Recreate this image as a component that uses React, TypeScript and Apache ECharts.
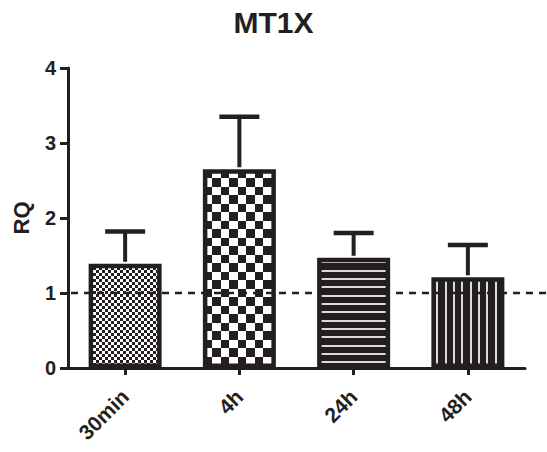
import React, { useEffect, useRef } from 'react';
import * as echarts from 'echarts';

const categories = ['30min', '4h', '24h', '48h'];
const meanValues = [1.39, 2.65, 1.47, 1.21];
const upperValues = [1.82, 3.35, 1.8, 1.64];
const referenceValue = 1;
const yMin = 0;
const yMax = 4;
const yInterval = 1;

const INK = '#231f20';
const FONT = '"Liberation Sans", Arial, Helvetica, sans-serif';

function makeCanvas(w: number, h: number, draw: (ctx: CanvasRenderingContext2D) => void) {
  const c = document.createElement('canvas');
  c.width = w;
  c.height = h;
  const ctx = c.getContext('2d')!;
  draw(ctx);
  return c;
}

function buildPatterns() {
  const fine = makeCanvas(6, 6, (ctx) => {
    ctx.fillStyle = '#ffffff';
    ctx.fillRect(0, 0, 6, 6);
    ctx.fillStyle = INK;
    ctx.fillRect(0, 0, 3, 3);
    ctx.fillRect(3, 3, 3, 3);
  });
  const coarse = makeCanvas(34, 34, (ctx) => {
    const b = [0, 8, 17, 25, 34];
    ctx.fillStyle = '#ffffff';
    ctx.fillRect(0, 0, 34, 34);
    ctx.fillStyle = INK;
    for (let i = 0; i < 4; i++) {
      for (let j = 0; j < 4; j++) {
        if ((i + j) % 2 === 0) ctx.fillRect(b[i], b[j], b[i + 1] - b[i], b[j + 1] - b[j]);
      }
    }
  });
  const hStripes = makeCanvas(8, 25, (ctx) => {
    ctx.fillStyle = INK;
    ctx.fillRect(0, 0, 8, 25);
    ctx.fillStyle = '#dcdcdc';
    [3, 11, 20].forEach((y) => ctx.fillRect(0, y, 8, 2));
  });
  const vStripes = makeCanvas(25, 8, (ctx) => {
    ctx.fillStyle = INK;
    ctx.fillRect(0, 0, 25, 8);
    ctx.fillStyle = '#dcdcdc';
    [3, 11, 20].forEach((x) => ctx.fillRect(x, 0, 2, 8));
  });
  return [fine, coarse, hStripes, vStripes];
}

export default function App() {
  const ref = useRef<HTMLDivElement>(null);

  useEffect(() => {
    document.body.style.margin = '0';
    if (!ref.current) return;
    const chart = echarts.init(ref.current, null, { renderer: 'svg' });
    const patterns = buildPatterns();

    const option: any = {
      animation: false,
      backgroundColor: '#ffffff',
      title: {
        text: 'MT1X',
        left: 'center',
        top: 7,
        padding: 0,
        textStyle: { fontFamily: FONT, fontSize: 30, fontWeight: 'bold', color: INK },
      },
      grid: { left: 68, right: 22, top: 68, bottom: 84, containLabel: false },
      xAxis: {
        type: 'category',
        data: categories,
        axisLine: { show: true, lineStyle: { color: INK, width: 3 } },
        axisTick: { show: true, alignWithLabel: true, length: 7, lineStyle: { color: INK, width: 3 } },
        axisLabel: {
          rotate: 45,
          margin: 25,
          fontFamily: FONT,
          fontSize: 21,
          fontWeight: 'bold',
          color: INK,
        },
        splitLine: { show: false },
      },
      yAxis: {
        type: 'value',
        min: yMin,
        max: yMax,
        interval: yInterval,
        name: 'RQ',
        nameLocation: 'middle',
        nameRotate: 90,
        nameGap: 36,
        nameTextStyle: { fontFamily: FONT, fontSize: 22, fontWeight: 'bold', color: INK },
        axisLine: { show: true, lineStyle: { color: INK, width: 3 } },
        axisTick: { show: true, length: 8, lineStyle: { color: INK, width: 3 } },
        axisLabel: { margin: 12, fontFamily: FONT, fontSize: 20, fontWeight: 'bold', color: INK },
        splitLine: { show: false },
      },
      series: [
        {
          type: 'bar',
          barWidth: 73,
          z: 2,
          data: meanValues.map((v, i) => ({
            value: v,
            itemStyle: {
              color: { image: patterns[i], repeat: 'repeat' },
              borderColor: INK,
              borderWidth: 4.5,
            },
          })),
        },
        {
          type: 'custom',
          z: 3,
          clip: false,
          encode: { x: 0, y: [1, 2] },
          data: categories.map((_, i) => [i, meanValues[i], upperValues[i]]),
          renderItem: (params: any, api: any) => {
            const idx = api.value(0);
            const base = api.coord([idx, api.value(1)]);
            const top = api.coord([idx, api.value(2)]);
            return {
              type: 'group',
              children: [
                {
                  type: 'line',
                  shape: { x1: base[0], y1: base[1] - 2, x2: top[0], y2: top[1] },
                  style: { stroke: INK, lineWidth: 4 },
                },
                {
                  type: 'line',
                  shape: { x1: top[0] - 20, y1: top[1], x2: top[0] + 20, y2: top[1] },
                  style: { stroke: INK, lineWidth: 4.7 },
                },
              ],
            };
          },
        },
        {
          type: 'custom',
          z: 4,
          clip: false,
          encode: { x: 0, y: 1 },
          data: [[0, referenceValue]],
          renderItem: (params: any, api: any) => {
            const p = api.coord([0, api.value(1)]);
            const left = params.coordSys.x;
            return {
              type: 'line',
              shape: { x1: left + 3, y1: p[1], x2: api.getWidth(), y2: p[1] },
              style: { stroke: INK, lineWidth: 2.7, lineDash: [7, 6] },
            };
          },
        },
      ],
    };

    chart.setOption(option);
    return () => chart.dispose();
  }, []);

  return <div ref={ref} style={{ width: 547, height: 452 }} />;
}
